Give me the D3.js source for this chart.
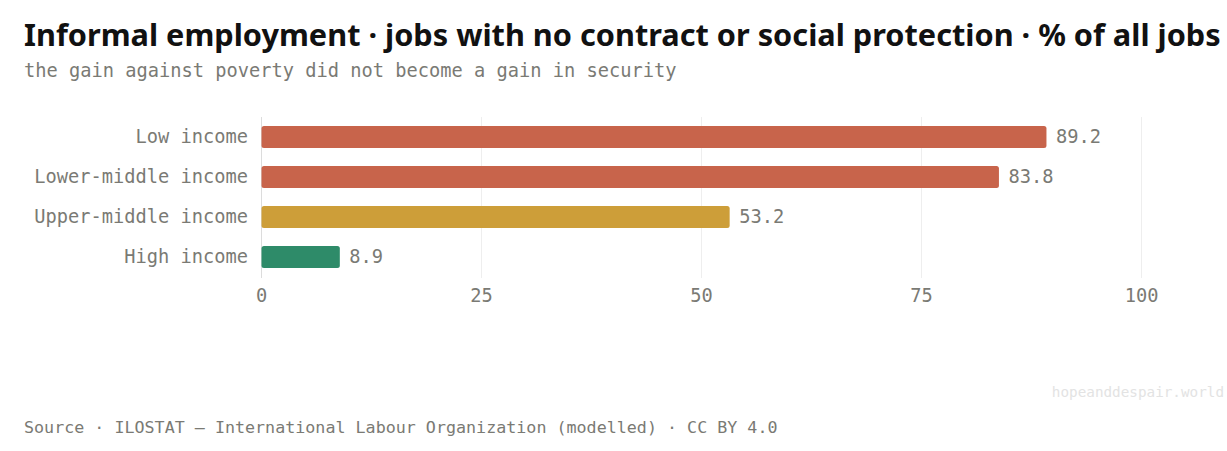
<!DOCTYPE html>
<html><head><meta charset="utf-8">
<script src="https://cdn.jsdelivr.net/npm/d3@7"></script>
<style>
html,body{margin:0;padding:0;background:#fff;}
svg{display:block;}
</style></head>
<body>
<svg id="c" width="1227" height="451"></svg>
<script>
const categories = ["Low income", "Lower-middle income", "Upper-middle income", "High income"];
const values = [89.2, 83.8, 53.2, 8.9];
const barColors = ["#c8644b", "#c8644b", "#cd9e39", "#2e8b69"];
const tickValues = [0, 25, 50, 75, 100];

const svg = d3.select("#c");
const mono = "'DejaVu Sans Mono', monospace";
const sans = "'Noto Sans', sans-serif";

const x = d3.scaleLinear().domain([0, 100]).range([261, 1141]);
const y = d3.scaleBand().domain(categories).range([117, 277]).paddingInner(0.45).paddingOuter(0.225);

svg.append("text").attr("x", 24).attr("y", 46)
  .attr("font-family", sans).attr("font-weight", 700).attr("font-size", 30.7)
  .attr("fill", "#111")
  .text("Informal employment · jobs with no contract or social protection · % of all jobs");

svg.append("text").attr("x", 24).attr("y", 77)
  .attr("font-family", mono).attr("font-size", 18.7).attr("fill", "#7a7a74")
  .text("the gain against poverty did not become a gain in security");

// grid
const g = svg.append("g");
g.selectAll("line.grid").data(tickValues).join("line")
  .attr("x1", d => x(d) + 0.5).attr("x2", d => x(d) + 0.5)
  .attr("y1", 117).attr("y2", 278)
  .attr("stroke", d => d === 0 ? "#dcdcdc" : "#eeeeee").attr("stroke-width", 1);

// x axis
const xAxis = d3.axisBottom(x).tickValues(tickValues).tickSize(0).tickPadding(0).tickFormat(d3.format("d"));
const ax = svg.append("g").attr("transform", "translate(0,302)").call(xAxis);
ax.select(".domain").remove();
ax.selectAll("text").attr("font-family", mono).attr("font-size", 18.7).attr("fill", "#7a7a74").attr("dy", 0);

// bars
g.selectAll("rect.bar").data(values).join("rect")
  .attr("x", x(0) + 0.5).attr("y", (d, i) => y(categories[i]))
  .attr("width", d => x(d) - x(0)).attr("height", y.bandwidth())
  .attr("rx", 2.5).attr("fill", (d, i) => barColors[i]);

// value labels
g.selectAll("text.val").data(values).join("text")
  .attr("x", d => x(d) + 10).attr("y", (d, i) => y(categories[i]) + y.bandwidth() / 2)
  .attr("dy", "0.33em")
  .attr("font-family", mono).attr("font-size", 18.7).attr("fill", "#7a7a74")
  .text(d => d.toFixed(1));

// category labels
g.selectAll("text.cat").data(categories).join("text")
  .attr("x", 248).attr("y", d => y(d) + y.bandwidth() / 2)
  .attr("dy", "0.33em").attr("text-anchor", "end")
  .attr("font-family", mono).attr("font-size", 18.7).attr("fill", "#7a7a74")
  .text(d => d);

svg.append("text").attr("x", 1224).attr("y", 397).attr("text-anchor", "end")
  .attr("font-family", mono).attr("font-size", 14.3).attr("fill", "#e3e3e3")
  .text("hopeanddespair.world");

svg.append("text").attr("x", 24).attr("y", 433)
  .attr("font-family", mono).attr("font-size", 16.7).attr("fill", "#7a7a74")
  .text("Source · ILOSTAT — International Labour Organization (modelled) · CC BY 4.0");
</script>
</body></html>
